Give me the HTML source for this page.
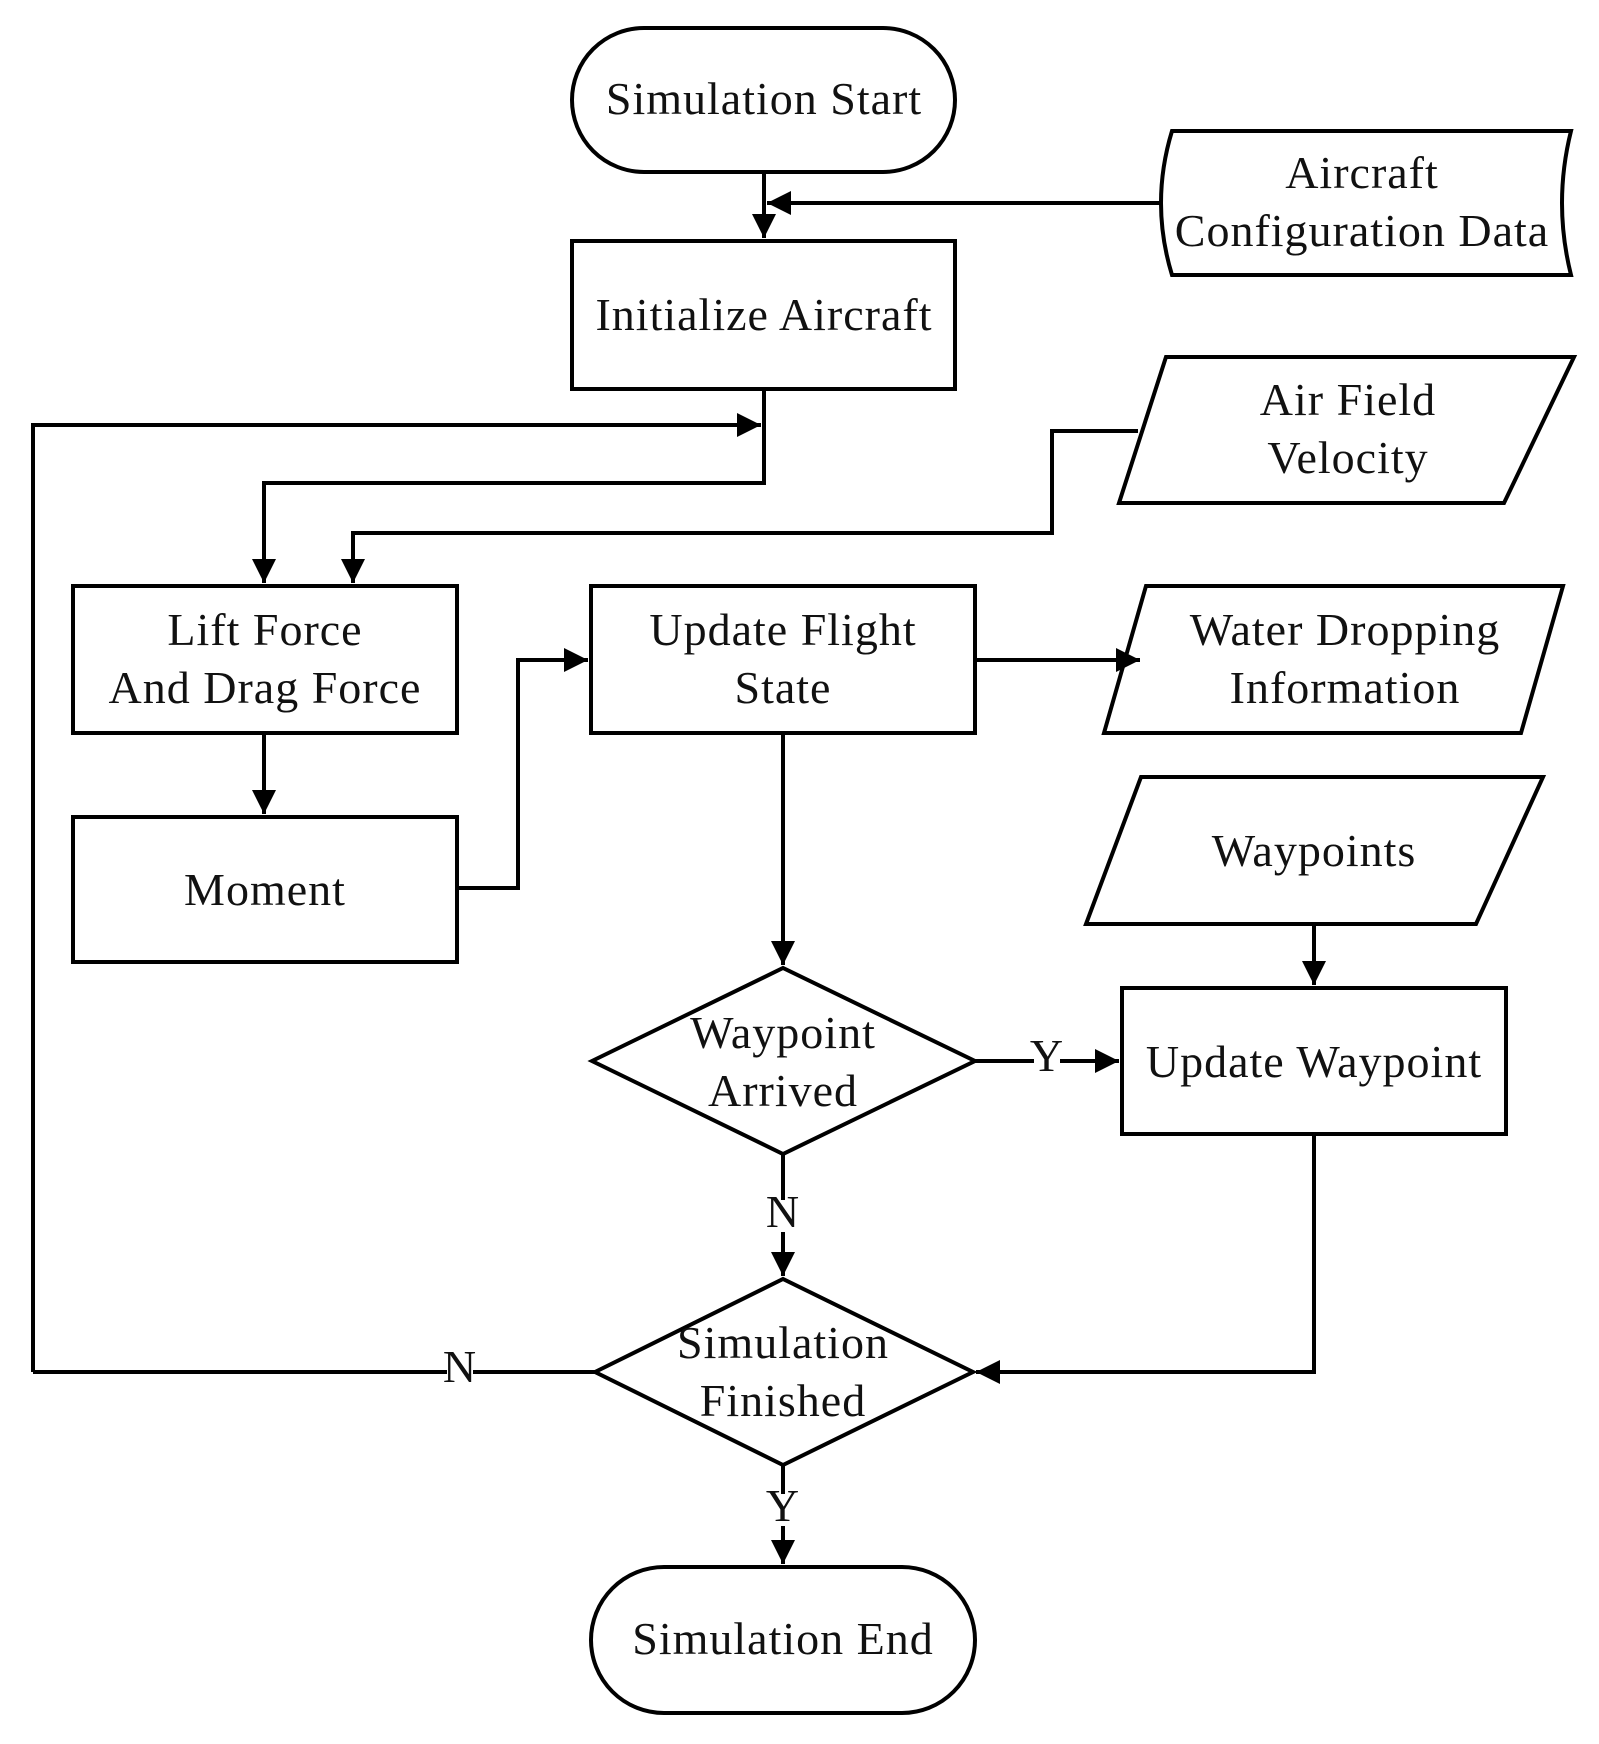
<!DOCTYPE html>
<html><head><style>body{margin:0;background:#fff}svg{display:block}text{font-family:"Liberation Serif",serif;font-size:46px;fill:#111;text-anchor:middle;letter-spacing:1px}</style></head>
<body>
<svg width="1599" height="1744" viewBox="0 0 1599 1744">
<defs>
<marker id="b" viewBox="0 0 10 10" refX="10" refY="5" markerWidth="26" markerHeight="24" orient="auto" markerUnits="userSpaceOnUse"><path d="M0,0L10,5L0,10z" fill="#000"/></marker></defs>
<g fill="none" stroke="#000" stroke-width="4">
<rect x="572" y="28" width="383" height="144" rx="72"/>
<rect x="572" y="241" width="383" height="148"/>
<path d="M1172,131 H1571 Q1553,203 1571,275 H1172 Q1150,203 1172,131 Z"/>
<polygon points="1166,357 1574,357 1504,503 1119,503"/>
<rect x="73" y="586" width="384" height="147"/>
<rect x="591" y="586" width="384" height="147"/>
<polygon points="1146,586 1563,586 1521,733 1104,733"/>
<rect x="73" y="817" width="384" height="145"/>
<polygon points="1141,777 1543,777 1476,924 1086,924"/>
<rect x="1122" y="988" width="384" height="146"/>
<polygon points="592,1061 783,968 975,1061 783,1154"/>
<polygon points="595,1372 783,1279 973,1372 783,1465"/>
<rect x="591" y="1567" width="384" height="146" rx="73"/>
<path d="M764,172 V238" marker-end="url(#b)"/>
<path d="M1160,203 H767" marker-end="url(#b)"/>
<path d="M764,389 V483 H264 V583" marker-end="url(#b)"/>
<path d="M1138,431 H1052 V533 H353 V583" marker-end="url(#b)"/>
<path d="M33,1372 V425 H761" marker-end="url(#b)"/>
<path d="M33,1372 H595"/>
<path d="M264,733 V814" marker-end="url(#b)"/>
<path d="M457,888 H518 V660 H588" marker-end="url(#b)"/>
<path d="M975,660 H1140" marker-end="url(#b)"/>
<path d="M783,733 V965" marker-end="url(#b)"/>
<path d="M975,1061 H1119" marker-end="url(#b)"/>
<path d="M1314,924 V985" marker-end="url(#b)"/>
<path d="M1314,1134 V1372 H976" marker-end="url(#b)"/>
<path d="M783,1154 V1276" marker-end="url(#b)"/>
<path d="M783,1465 V1564" marker-end="url(#b)"/>
</g>
<g fill="#fff"><rect x="1034" y="1046" width="26" height="30"/><rect x="770" y="1200" width="26" height="32"/><rect x="447" y="1358" width="26" height="28"/><rect x="770" y="1494" width="26" height="32"/></g>
<text x="764" y="114">Simulation Start</text>
<text x="764" y="330">Initialize Aircraft</text>
<text x="1362" y="188">Aircraft</text>
<text x="1362" y="246">Configuration Data</text>
<text x="1348" y="415">Air Field</text>
<text x="1348" y="473">Velocity</text>
<text x="265" y="645">Lift Force</text>
<text x="265" y="703">And Drag Force</text>
<text x="783" y="645">Update Flight</text>
<text x="783" y="703">State</text>
<text x="1345" y="645">Water Dropping</text>
<text x="1345" y="703">Information</text>
<text x="265" y="905">Moment</text>
<text x="1314" y="866">Waypoints</text>
<text x="1314" y="1077">Update Waypoint</text>
<text x="783" y="1048">Waypoint</text>
<text x="783" y="1106">Arrived</text>
<text x="783" y="1358">Simulation</text>
<text x="783" y="1416">Finished</text>
<text x="783" y="1654">Simulation End</text>
<g style="font-size:27px;letter-spacing:0"><text x="1047" y="1071">Y</text><text x="783" y="1227">N</text><text x="460" y="1382">N</text><text x="783" y="1521">Y</text></g>
</svg>
</body></html>
